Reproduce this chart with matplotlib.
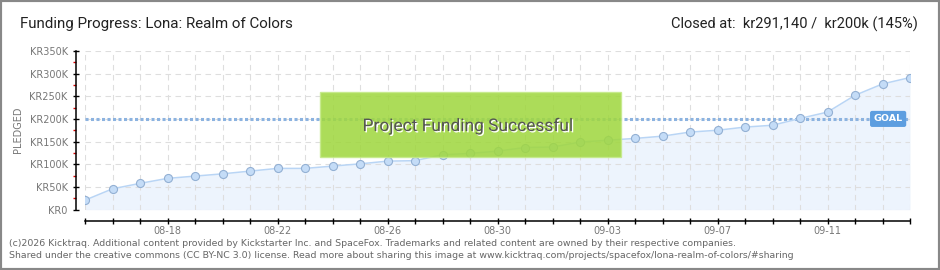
import matplotlib
matplotlib.use('Agg')
import matplotlib.pyplot as plt
from matplotlib.patches import Rectangle
import matplotlib.transforms as mtransforms
import matplotlib.patheffects as pe

# ---- data ----
dates = ["08-15", "08-16", "08-17", "08-18", "08-19", "08-20", "08-21", "08-22",
         "08-23", "08-24", "08-25", "08-26", "08-27", "08-28", "08-29", "08-30",
         "08-31", "09-01", "09-02", "09-03", "09-04", "09-05", "09-06", "09-07",
         "09-08", "09-09", "09-10", "09-11", "09-12", "09-13", "09-14"]
pledged = [21000, 46000, 58000, 69000, 74000, 79000, 85000, 91000,
           91000, 96000, 101000, 107000, 108000, 121000, 124000, 129000,
           137000, 138000, 149000, 153000, 157000, 162000, 171000, 175000,
           182000, 186000, 201000, 215000, 252000, 277000, 291140]
goal = 200000
y_ticks = [0, 50000, 100000, 150000, 200000, 250000, 300000, 350000]
y_tick_labels = ["KR0", "KR50K", "KR100K", "KR150K", "KR200K", "KR250K", "KR300K", "KR350K"]
x_label_dates = ["08-18", "08-22", "08-26", "08-30", "09-03", "09-07", "09-11"]
title = "Funding Progress: Lona: Realm of Colors"
status = "Closed at:  kr291,140 /  kr200k (145%)"
footer_lines = [
    "(c)2026 Kicktraq. Additional content provided by Kickstarter Inc. and SpaceFox. Trademarks and related content are owned by their respective companies.",
    "Shared under the creative commons (CC BY-NC 3.0) license. Read more about sharing this image at www.kicktraq.com/projects/spacefox/lona-realm-of-colors/#sharing",
]
banner_text = "Project Funding Successful"
goal_text = "GOAL"
y_label = "PLEDGED"

NARROW = ['Roboto', 'DejaVu Sans']

W, H = 940, 270
fig = plt.figure(figsize=(W / 100, H / 100), dpi=100)
fig.patch.set_facecolor('white')

ax = fig.add_axes([85 / W, 60.3 / H, 825 / W, 158.9 / H])
ax.set_facecolor('white')
x = list(range(len(dates)))

ax.fill_between(x, pledged, color='#edf4fd', lw=0, zorder=1)
ax.plot(x, pledged, color='#b9d5f5', lw=1.1, marker='o', ms=5.8,
        mfc='#c4dcf7', mec='#93b0d3', mew=0.8, zorder=3)
ax.axhline(goal, color='#8cb3e0', lw=2.2, ls=(0, (1, 0.8)), zorder=2.5)

ax.set_xlim(0, len(dates) - 1)
ax.set_ylim(y_ticks[0], y_ticks[-1])

ax.set_xticks(x)
ax.set_xticklabels([d if d in x_label_dates else "" for d in dates])
ax.set_yticks(y_ticks)
ax.set_yticklabels(y_tick_labels)
ax.set_yticks([v + 25000 for v in y_ticks[:-1]], minor=True)

ax.grid(True, which='major', color='#dedede', lw=0.8, ls=(0, (5, 4)))
for s in ['top', 'right']:
    ax.spines[s].set_visible(False)
ax.spines['left'].set_position(('outward', 6.5))
ax.spines['bottom'].set_position(('outward', 8))
for s in ['left', 'bottom']:
    ax.spines[s].set_linewidth(1.1)
    ax.spines[s].set_color('black')

ax.tick_params(axis='x', which='major', direction='inout', length=4, width=1,
               color='black', labelsize=7, labelcolor='#777777', pad=2)
ax.tick_params(axis='y', which='major', direction='inout', length=4, width=1,
               color='black', labelsize=7, labelcolor='#777777', pad=4)
ax.tick_params(axis='y', which='minor', direction='out', length=2.5, width=1,
               color='#dd0000')

# banner
ax.add_patch(Rectangle((0.285, 0.332), 0.365, 0.409, transform=ax.transAxes,
                       facecolor='#a0d740', edgecolor='#c5ea8a', lw=1,
                       alpha=0.87, zorder=5))
ax.text(0.464, 0.527, banner_text, transform=ax.transAxes, ha='center', va='center',
        fontsize=12.5, color='#555555', zorder=6, family=NARROW,
        path_effects=[pe.withSimplePatchShadow(offset=(1, -1), shadow_rgbFace='white', alpha=1)])

# goal label
trans = mtransforms.blended_transform_factory(ax.transAxes, ax.transData)
ax.text(0.9735, goal, goal_text, transform=trans, ha='center', va='center',
        fontsize=6.8, color='white', fontweight='bold', zorder=6,
        bbox=dict(boxstyle='round,pad=0.3,rounding_size=0.15', fc='#5d9ee0', ec='#5d9ee0'))

# texts
fig.text(18 / W, 1 - 130 / H, y_label, rotation=90, ha='center', va='center',
         fontsize=7, color='#777777')
fig.text(20 / W, 1 - 24 / H, title, ha='left', va='center', fontsize=10.9,
         color='#222222', family=NARROW)
fig.text(918 / W, 1 - 24 / H, status, ha='right', va='center', fontsize=10.5,
         color='#222222', family=NARROW)
fig.text(9 / W, 1 - 243 / H, footer_lines[0], ha='left', va='center', fontsize=6.75, color='#666666')
fig.text(9 / W, 1 - 255.5 / H, footer_lines[1], ha='left', va='center', fontsize=6.75, color='#666666')

fig.patches.append(Rectangle((0, 0), 1, 1, transform=fig.transFigure, fill=False,
                             ec='#888888', lw=3))

fig.savefig('out.png', dpi=100)
